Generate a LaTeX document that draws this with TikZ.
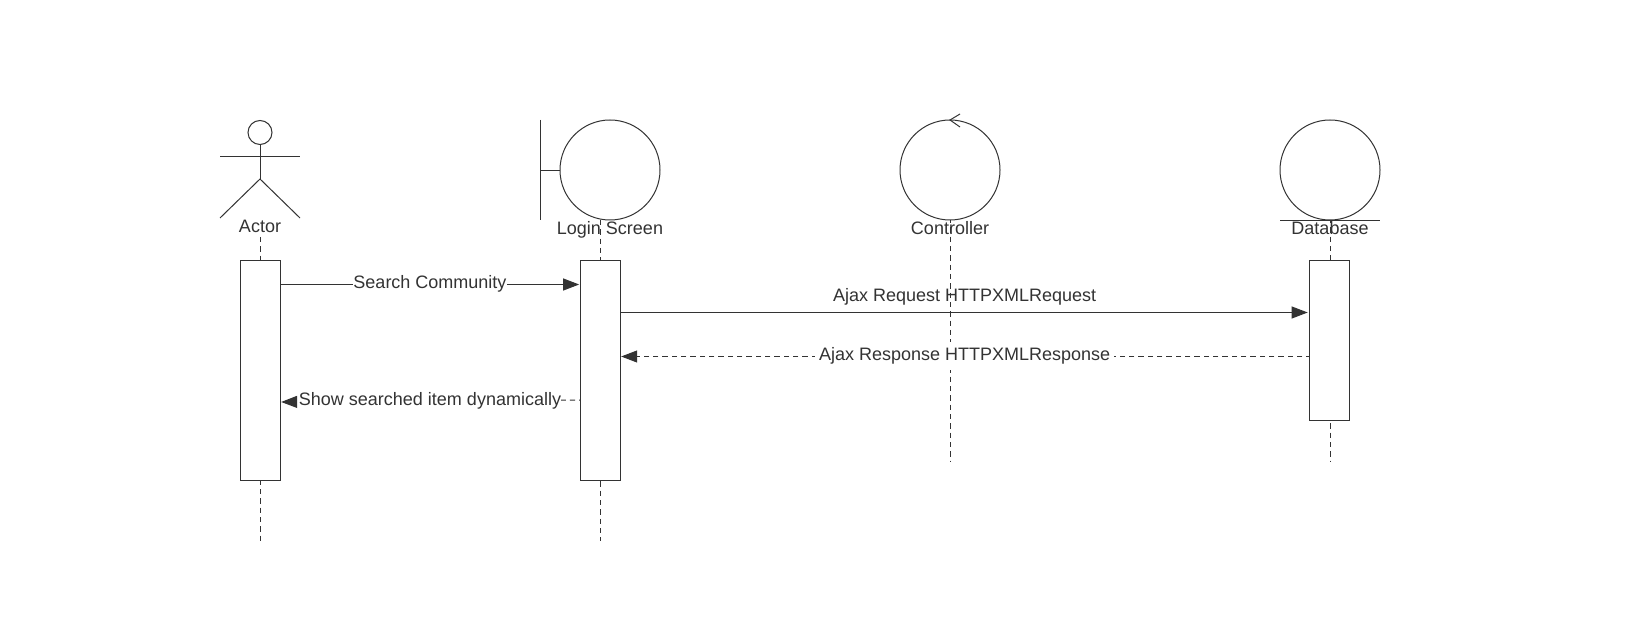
\documentclass[tikz,border=0pt]{standalone}
\usepackage{fontspec}
\setmainfont{Liberation Sans}
\usetikzlibrary{arrows.meta}
\definecolor{ink}{HTML}{333333}
\tikzset{
  ln/.style={draw=ink,line width=0.75pt},
  ball/.style={circle,ln,inner sep=0pt,outer sep=0pt,minimum size=75pt},
  head/.style={circle,ln,inner sep=0pt,outer sep=0pt,minimum size=18pt},
  bar/.style={rectangle,ln,fill=white,inner sep=0pt,outer sep=0pt,minimum width=30pt},
  life/.style={ln,dash pattern=on 4pt off 3pt},
  txt/.style={text=ink,font=\fontsize{13.5pt}{16pt}\selectfont,anchor=base,inner sep=0pt,outer sep=0pt},
  bg/.style={txt,fill=white,text height=10pt,text depth=3pt},
  bgwide/.style={bg,inner xsep=3pt,inner ysep=4pt},
  solidmsg/.style={ln,shorten >=1pt,-{Triangle[length=12pt,width=9pt,color=ink]}},
  dashmsg/.style={ln,dash pattern=on 4pt off 3pt,shorten >=0.5pt,-{Triangle[length=12pt,width=9pt,color=ink]}}
}
\begin{document}
\begin{tikzpicture}[x=0.75pt,y=-0.75pt]
\useasboundingbox[fill=white] (0,0) rectangle (1652,634);

% actor figure
\node[head] (actorHead) at (260,132.5) {};
\coordinate (armL) at (220,157);
\coordinate (armR) at (300,157);
\coordinate (crotch) at (260,179);
\coordinate (footL) at (220,218);
\coordinate (footR) at (300,218);
\draw[ln] (armL) -- (armR);
\draw[ln] (actorHead.south) -- (crotch);
\draw[ln] (footL) -- (crotch) -- (footR);

% boundary
\node[ball] (loginCircle) at (610,170) {};
\coordinate (barTop) at (540.5,120);
\coordinate (barBot) at (540.5,220);
\coordinate (barMid) at (540.5,171);
\coordinate (barJoin) at (560,171);
\draw[ln] (barTop) -- (barBot);
\draw[ln] (barMid) -- (barJoin);

% controller
\node[ball] (ctrlCircle) at (950,170) {};
\coordinate (ctrlArrowA) at (960,114);
\coordinate (ctrlArrowB) at (960,127);
\draw[ln] (ctrlArrowA) -- (ctrlCircle.north) -- (ctrlArrowB);

% database
\node[ball] (dbCircle) at (1330,170) {};
\coordinate (dbBaseL) at (1280,220.5);
\coordinate (dbBaseR) at (1380,220.5);
\draw[ln] (dbBaseL) -- (dbBaseR);

% lifeline free ends
\coordinate (actorTop) at (260.5,237);
\coordinate (actorEnd) at (260.5,541);
\coordinate (loginEnd) at (600.5,541);
\coordinate (ctrlEnd) at (950,461.5);
\coordinate (dbEnd) at (1330,461.5);

% lifelines
\draw[life,dash phase=1.5pt] (ctrlCircle.south) -- (ctrlEnd);
\draw[life] (actorTop) -- (actorEnd);
\draw[life] (loginEnd |- loginCircle.south) -- (loginEnd);
\draw[life,dash phase=1.5pt] (dbCircle.south) -- (dbEnd);

\node[bar,minimum height=164.5pt] (actorBox) at (260.5,370.5) {};
\node[bar,minimum height=164.5pt] (loginBox) at (600.5,370.5) {};
\node[bar,minimum height=120pt] (dbBox) at (1329,340.5) {};

% titles
\node[txt] (actorLabel) at (260,233) {Actor};
\node[txt] (loginLabel) at (610,235) {Login Screen};
\node[txt] (ctrlLabel) at (950,235) {Controller};
\node[txt] (dbLabel) at (1330,235) {Database};

% messages
\coordinate (m1a) at (actorBox.east |- 0,284.5);
\coordinate (m1b) at (loginBox.west |- 0,284.5);
\draw[solidmsg] (m1a) -- (m1b);
\node[bg] (m1) at (430,289) {Search Community};

\coordinate (m2a) at (loginBox.east |- 0,312.5);
\coordinate (m2b) at (dbBox.west |- 0,312.5);
\draw[solidmsg] (m2a) -- (m2b);
\node[txt] (m2) at (964.7,302) {Ajax Request HTTPXMLRequest};

\coordinate (m3a) at (dbBox.west |- 0,356.5);
\coordinate (m3b) at (loginBox.east |- 0,356.5);
\draw[dashmsg,dash phase=2pt] (m3a) -- (m3b);
\node[bgwide] (m3) at (964.7,361) {Ajax Response HTTPXMLResponse};

\coordinate (m4a) at (loginBox.west |- 0,400);
\coordinate (m4b) at (actorBox.east |- 0,402);
\draw[dashmsg,dash phase=3pt] (m4a) -- (m4b);
\node[bg] (m4) at (430,405.5) {Show searched item dynamically};
\end{tikzpicture}
\end{document}
